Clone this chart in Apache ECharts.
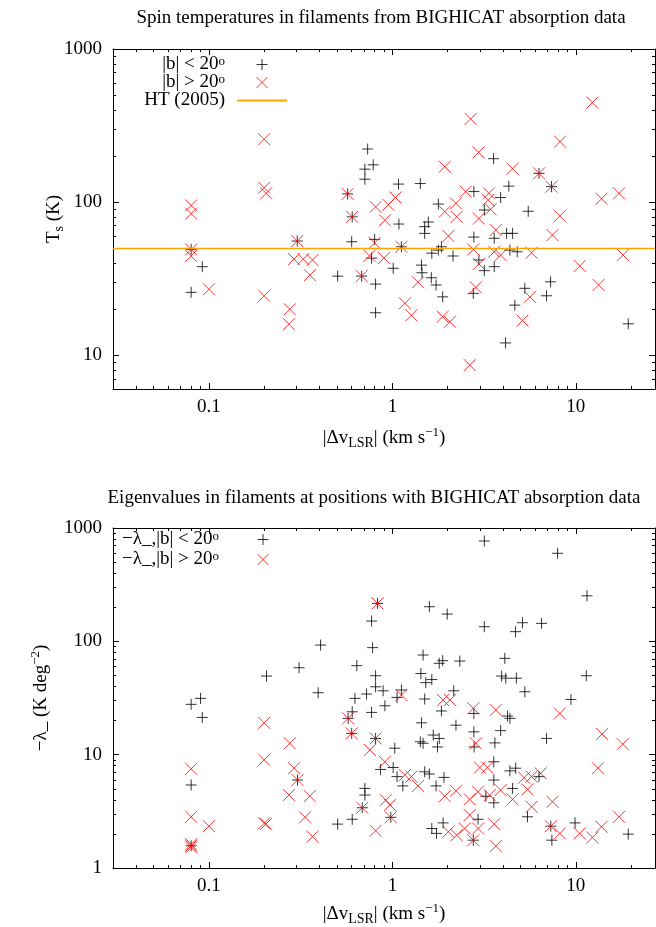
<!DOCTYPE html>
<html><head><meta charset="utf-8">
<script src="https://cdn.jsdelivr.net/npm/echarts@6/dist/echarts.min.js"></script>
<style>html,body{margin:0;padding:0;background:#fff}#c{width:656px;height:927px}</style>
</head><body><div id="c"></div><script>
// ---- axis ranges and ticks ----
const DV_RANGE = [0.03, 27];
const TS_RANGE = [6, 1000];
const LAM_RANGE = [1, 1000];
const DV_TICKS = [0.1, 1, 10];
const DV_MINOR = [0.04,0.05,0.06,0.07,0.08,0.09,0.2,0.3,0.4,0.5,0.6,0.7,0.8,0.9,2,3,4,5,6,7,8,9,20];
const TS_TICKS = [10, 100, 1000];
const TS_MINOR = [7,8,9,20,30,40,50,60,70,80,90,200,300,400,500,600,700,800,900];
const LAM_TICKS = [1, 10, 100, 1000];
const LAM_MINOR = [2,3,4,5,6,7,8,9,20,30,40,50,60,70,80,90,200,300,400,500,600,700,800,900];
const HT_TS = 50;

// ---- top panel: spin temperature vs |dv| ----
const TS_LOW_B = [[0.08,49],[0.092,37.8],[0.08,25.7],[0.303,55.6],[0.503,32.8],[0.57,113],[0.604,80],[0.6,55],[0.68,32.8],[0.733,222],[0.786,175],[0.708,164],[0.708,141],[0.81,29.1],[0.81,18.9],[0.8,57],[0.77,43],[1.01,36.9],[1.08,131],[1.42,132],[1.085,71.8],[1.12,51],[1.5,69],[1.57,74],[1.5,62.4],[1.44,38.7],[1.45,34.5],[1.63,32],[1.73,28.7],[1.88,24],[1.64,46.3],[1.78,48.5],[1.85,51],[2.14,44.4],[1.78,97],[2.78,117],[3.17,88.7],[3.89,107],[4.31,127],[3.56,192],[5.5,87],[6.3,154],[7.37,126],[2.78,59],[2.96,41.8],[3.17,35.6],[2.76,25.3],[3.59,58],[3.59,37.8],[4.19,62.4],[4.52,62.4],[4.37,48.5],[4.79,47.3],[5.27,27.3],[4.65,21.2],[4.14,12],[7.28,30.1],[6.92,24.4],[19.3,16]];
const TS_HIGH_B = [[0.08,95],[0.08,84],[0.08,49],[0.08,44.4],[0.1,26.9],[0.2,257],[0.2,124],[0.205,114],[0.2,24.4],[0.276,19.9],[0.273,15.9],[0.303,55.6],[0.291,42.4],[0.327,42.4],[0.367,41.8],[0.355,33.3],[0.57,113],[0.604,80],[0.68,32.8],[0.81,93],[0.95,96],[1.04,107],[0.91,76],[0.8,54],[0.75,44.5],[0.9,43],[1.12,51],[1.17,21.8],[1.27,18.2],[1.38,29.9],[1.93,170],[1.93,86.5],[2.22,98],[2.24,80],[2.51,117],[2.67,349],[2.95,211],[2.96,78],[3.36,114],[3.33,103],[3.43,89.6],[4.52,165],[6.3,154],[7.37,126],[8.2,248],[12.3,446],[8.18,81],[13.8,105],[17.2,114],[2.02,60],[1.88,17.8],[2.06,16.5],[2.76,49],[2.96,39.4],[2.85,27.7],[2.64,8.6],[3.66,65.6],[3.59,47.3],[3.89,45],[5.74,46.6],[5.62,24],[5.12,16.8],[7.46,60.8],[10.5,38.2],[13.3,28.7],[18.1,45]];

// ---- bottom panel: eigenvalue vs |dv| ----
const LAM_LOW_B = [[0.83,216],[0.77,151],[0.406,92.7],[0.78,88],[0.31,58.5],[0.64,61],[0.206,49.4],[0.81,49.7],[0.81,39.7],[3.17,768],[7.95,598],[11.5,252],[1.59,202],[1.99,174],[3.17,134.6],[5.12,146],[4.69,121.7],[6.5,144],[1.47,75.7],[1.8,64],[1.88,67.5],[2.33,67],[4.1,70.8],[1.43,52],[1.52,43.2],[1.64,46],[3.94,49.4],[4.15,47.3],[4.74,47.3],[11.4,49.7],[0.08,27.8],[0.09,31.4],[0.092,21.3],[0.394,35.2],[0.625,31.4],[0.723,34.3],[0.89,36.6],[0.91,27],[0.604,23.9],[0.77,23.6],[0.574,20.9],[0.6,15.4],[0.81,13.9],[0.304,5.97],[0.08,5.4],[0.08,1.57],[0.503,2.44],[0.604,2.69],[0.685,3.4],[0.708,5.04],[0.708,4.4],[0.862,7.4],[1.12,37.2],[1.06,32],[1.5,31],[2.16,36.6],[1.85,24.3],[1.44,19.1],[2.22,18.2],[1.67,14.9],[1.8,13.9],[1.42,13],[1.47,12.6],[1.76,11.7],[1.03,11.4],[1.01,7.7],[1.06,6.4],[1.14,5.3],[1.5,7.06],[1.59,6.75],[1.91,6.3],[1.73,5.3],[1.89,2.5],[1.64,2.23],[1.74,2.02],[2.93,2.69],[2.76,1.76],[3.23,4.3],[3.57,3.76],[3.57,5.97],[3.57,8.65],[2.78,23.1],[2.78,15.9],[2.79,11.7],[3.62,12.7],[3.89,16.3],[4.24,21.9],[4.37,20.9],[5.27,35.9],[9.4,30.7],[6.92,13.9],[6.3,6.4],[4.52,5.04],[4.7,7.6],[4.37,7.2],[5.45,2.83],[7.3,2.34],[7.4,1.76],[9.9,2.5],[19.3,1.99],[0.98,2.8]];
const LAM_HIGH_B = [[0.83,216],[0.574,20.9],[0.6,15.4],[0.81,13.9],[0.2,19.1],[0.2,9.0],[0.276,12.6],[0.291,7.6],[0.304,5.97],[0.273,4.4],[0.355,4.3],[0.334,2.8],[0.367,1.89],[0.2,2.48],[0.205,2.45],[0.08,7.5],[0.08,2.83],[0.08,1.57],[0.08,1.62],[0.08,1.52],[0.1,2.34],[0.685,3.4],[0.81,2.13],[0.754,11],[0.91,8.65],[0.92,3.97],[0.97,3.6],[0.98,2.8],[1.12,33.6],[1.89,30.3],[2.06,30.3],[1.17,6.6],[1.27,6.4],[1.38,5.3],[1.93,4.3],[2.22,4.8],[2.02,2.09],[2.24,1.95],[2.48,2.23],[2.64,2.93],[2.64,4.03],[2.93,2.23],[2.76,1.76],[3.66,1.56],[3.59,2.44],[2.93,4.71],[3.39,4.4],[3.89,4.87],[3.0,7.7],[3.29,7.7],[3.66,24.8],[2.76,25.6],[2.85,12.6],[8.18,23.1],[13.9,15.2],[18,12.4],[13.2,7.6],[5.23,6.26],[5.74,6.4],[6.43,6.84],[5.45,4.94],[4.52,4.03],[5.74,3.47],[7.46,3.84],[7.3,2.34],[8.18,2.02],[10.5,2.02],[12.3,1.86],[13.8,2.31],[17.2,2.83]];

// ---- styling ----
const FONT = 'Liberation Serif';
const FS = 19;
const PLUS = 'path://M5,0L5,10M0,5L10,5';
const CROSS = 'path://M0,0L10,10M10,0L0,10';
const RICH = {
  sup: {fontFamily: FONT, fontSize: 13, verticalAlign: 'top', lineHeight: 13, color: '#000'},
  sub: {fontFamily: FONT, fontSize: 14, verticalAlign: 'bottom', lineHeight: 14, color: '#000'}
};
const GRIDS = [
  {left: 113, top: 49, width: 542, height: 340, outerBoundsMode: 'none'},
  {left: 113, top: 528, width: 542, height: 340, outerBoundsMode: 'none'}
];
function fmt(v) { return v >= 1 ? String(Math.round(v)) : String(+v.toPrecision(2)); }
function axisSet(dim, grid, range, major, minor, name, nameGap, moveOverlap) {
  const pos = dim === 'x' ? ['bottom', 'top'] : ['left', 'right'];
  const out = [];
  pos.forEach((p, k) => {
    [true, false].forEach(isMajor => {
      const a = {
        type: 'log', logBase: 10, gridIndex: grid, position: p, min: range[0], max: range[1],
        splitLine: {show: false},
        axisLine: {show: isMajor, lineStyle: {color: '#000', width: 1}},
        axisTick: {show: true, inside: true, length: isMajor ? 6 : 3,
                   customValues: isMajor ? major : minor, lineStyle: {color: '#000', width: 1}},
        axisLabel: {show: false}
      };
      if (isMajor && k === 0) {
        a.axisLabel = {show: true, customValues: major, formatter: fmt, color: '#000',
                       fontFamily: FONT, fontSize: FS, margin: dim === 'x' ? 9 : 11};
        a.name = name; a.nameLocation = 'middle'; a.nameGap = nameGap;
        a.nameMoveOverlap = moveOverlap;
        a.nameTextStyle = {fontFamily: FONT, fontSize: FS, color: '#000', lineHeight: 24, rich: RICH};
      }
      out.push(a);
    });
  });
  return out;
}
const xAxes = [].concat(
  axisSet('x', 0, DV_RANGE, DV_TICKS, DV_MINOR, '|Δv{sub|LSR}| (km s{sup|−1})', 37, true),
  axisSet('x', 1, DV_RANGE, DV_TICKS, DV_MINOR, '|Δv{sub|LSR}| (km s{sup|−1})', 34, true)
);
const yAxes = [].concat(
  axisSet('y', 0, TS_RANGE, TS_TICKS, TS_MINOR, 'T{sub|s} (K)', 47, false),
  axisSet('y', 1, LAM_RANGE, LAM_TICKS, LAM_MINOR, '−λ_ (K deg{sup|−2})', 57, true)
);
function scat(name, data, grid, black) {
  return {
    type: 'scatter', name: name, data: data, xAxisIndex: grid * 4, yAxisIndex: grid * 4,
    symbol: black ? PLUS : CROSS, symbolSize: black ? 11 : 12,
    itemStyle: {color: 'none', borderColor: black ? '#000' : '#ff0000', borderWidth: 1},
    emphasis: {disabled: true}, z: black ? 3 : 4
  };
}
const titleStyle = {fontFamily: FONT, fontSize: FS, fontWeight: 'normal', color: '#000'};
const option = {
  animation: false,
  backgroundColor: '#fff',
  title: [
    {text: 'Spin temperatures in filaments from BIGHICAT absorption data', left: 381, textAlign: 'center',
     top: 9, padding: 0, textStyle: titleStyle},
    {text: 'Eigenvalues in filaments at positions with BIGHICAT absorption data', left: 374, textAlign: 'center',
     top: 489, padding: 0, textStyle: titleStyle}
  ],
  grid: GRIDS,
  xAxis: xAxes,
  yAxis: yAxes,
  legend: [
    {orient: 'vertical', align: 'right', right: 368, top: 55, padding: 0, itemGap: -1,
     itemWidth: 50, itemHeight: 11, selectedMode: false,
     data: ['|b| < 20°', '|b| > 20°',
            {name: 'HT (2005)', itemStyle: {color: 'rgba(0,0,0,0)', borderWidth: 0, opacity: 0}}],
     formatter: n => n.replace('20°', '20{sup|o}'),
     itemStyle: {borderWidth: 1},
     textStyle: {fontFamily: FONT, fontSize: FS, color: '#000', rich: RICH, padding: [0, 7, 0, 0]}},
    {orient: 'vertical', align: 'right', right: 385, top: 530, padding: 0, itemGap: 1,
     itemWidth: 50, itemHeight: 11, selectedMode: false,
     data: ['−λ_,|b| < 20°', '−λ_,|b| > 20°'],
     formatter: n => n.replace('20°', '20{sup|o}'),
     itemStyle: {borderWidth: 1},
     textStyle: {fontFamily: FONT, fontSize: FS, color: '#000', rich: RICH, padding: [0, 14, 0, 0]}}
  ],
  series: [
    scat('|b| < 20°', TS_LOW_B, 0, true),
    scat('|b| > 20°', TS_HIGH_B, 0, false),
    {type: 'line', name: 'HT (2005)', data: [], xAxisIndex: 0, yAxisIndex: 0, symbol: 'none',
     lineStyle: {color: '#ffa500', width: 1.3}, itemStyle: {color: '#ffa500'},
     markLine: {silent: true, symbol: 'none', label: {show: false},
                lineStyle: {color: '#ffa500', width: 1.3, type: 'solid'}, data: [{yAxis: HT_TS}]}},
    scat('−λ_,|b| < 20°', LAM_LOW_B, 1, true),
    scat('−λ_,|b| > 20°', LAM_HIGH_B, 1, false)
  ]
};
const chart = echarts.init(document.getElementById('c'), null, {renderer: 'canvas'});
chart.setOption(option);
</script></body></html>
